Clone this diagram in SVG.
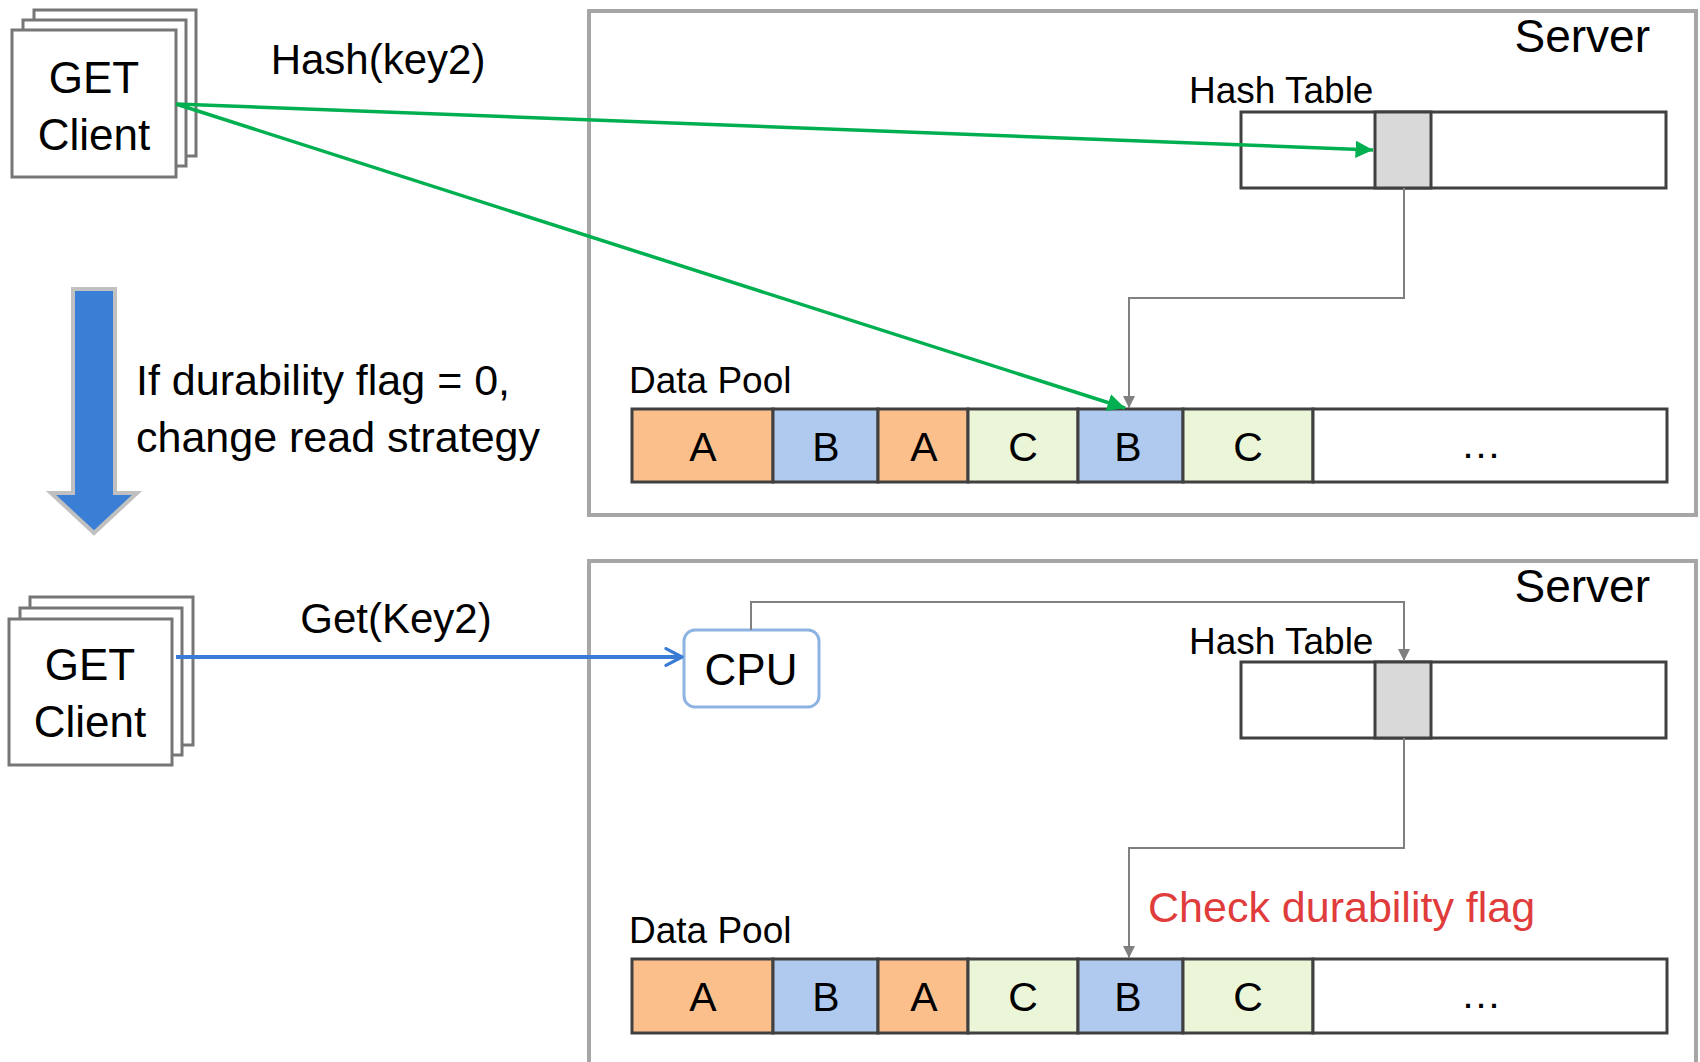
<svg xmlns="http://www.w3.org/2000/svg" width="1700" height="1062" viewBox="0 0 1700 1062">
  <style>
    text { font-family: "Liberation Sans", Arial, sans-serif; fill: #000; }
    .server { fill: #fff; stroke: #a6a6a6; stroke-width: 4; }
    .card { fill: #fff; stroke: #767676; stroke-width: 3; }
    .table { fill: #fff; stroke: #404040; stroke-width: 3; }
    .slot { fill: #d9d9d9; stroke: #404040; stroke-width: 3; }
    .cellA { fill: #fbbf8c; stroke: #404040; stroke-width: 3; }
    .cellB { fill: #afcaee; stroke: #404040; stroke-width: 3; }
    .cellC { fill: #ebf6d8; stroke: #404040; stroke-width: 3; }
    .cellE { fill: #fff; stroke: #404040; stroke-width: 3; }
    .green { fill: none; stroke: #00b050; stroke-width: 3.5; }
    .blue { fill: none; stroke: #3a7bd5; stroke-width: 4; }
    .gray { fill: none; stroke: #808080; stroke-width: 2; }
    .lbl { font-size: 44px; text-anchor: middle; }
    .cell { font-size: 41px; text-anchor: middle; }
    .small { font-size: 37px; }
  </style>
  <defs>
    <marker id="ahGreen" viewBox="0 0 10 10" refX="10" refY="5" markerWidth="5" markerHeight="5" orient="auto" markerUnits="strokeWidth">
      <path d="M0,0 L10,5 L0,10 z" fill="#00b050"/>
    </marker>
    <marker id="ahGray" viewBox="0 0 10 10" refX="10" refY="5" markerWidth="6" markerHeight="6" orient="auto" markerUnits="strokeWidth">
      <path d="M0,0 L10,5 L0,10 z" fill="#808080"/>
    </marker>
    <marker id="ahOpen" viewBox="0 0 10 10" refX="9" refY="5" markerWidth="5" markerHeight="5" orient="auto" markerUnits="strokeWidth">
      <path d="M1,0.8 L9,5 L1,9.2" fill="none" stroke="#3a7bd5" stroke-width="1.6" stroke-linecap="round" stroke-linejoin="round"/>
    </marker>
  </defs>

  <rect width="1700" height="1062" fill="#fff"/>

  <!-- upper server -->
  <g id="server-top">
    <rect class="server" x="589" y="11" width="1107" height="504"/>
    <text x="1650" y="52" font-size="46" text-anchor="end">Server</text>
  </g>

  <!-- lower server (continues past the bottom edge) -->
  <g id="server-bottom">
    <rect class="server" x="589" y="561" width="1107" height="520"/>
    <text x="1650" y="602" font-size="46" text-anchor="end">Server</text>
  </g>

  <!-- upper client stack -->
  <g id="client-top">
    <rect class="card" x="34" y="10" width="162" height="146"/>
    <rect class="card" x="23" y="20" width="163" height="146"/>
    <rect class="card" x="12" y="30" width="164" height="147"/>
    <text class="lbl" x="94" y="93">GET</text>
    <text class="lbl" x="94" y="150">Client</text>
  </g>

  <!-- lower client stack -->
  <g id="client-bottom">
    <rect class="card" x="30" y="597" width="163" height="148"/>
    <rect class="card" x="20" y="608" width="162" height="147"/>
    <rect class="card" x="9" y="619" width="163" height="146"/>
    <text class="lbl" x="90" y="680">GET</text>
    <text class="lbl" x="90" y="737">Client</text>
  </g>

  <!-- upper hash table -->
  <g id="hash-table-top">
    <text class="small" x="1189" y="103">Hash Table</text>
    <rect class="table" x="1241" y="112" width="425" height="76"/>
    <rect class="slot" x="1375" y="112" width="56" height="76"/>
  </g>

  <!-- lower hash table -->
  <g id="hash-table-bottom">
    <text class="small" x="1189" y="654">Hash Table</text>
    <rect class="table" x="1241" y="662" width="425" height="76"/>
    <rect class="slot" x="1375" y="662" width="56" height="76"/>
  </g>

  <!-- upper data pool -->
  <g id="data-pool-top">
    <text class="small" x="629" y="393">Data Pool</text>
    <rect class="cellA" x="632" y="409" width="141" height="73"/>
    <rect class="cellB" x="773" y="409" width="105" height="73"/>
    <rect class="cellA" x="878" y="409" width="90" height="73"/>
    <rect class="cellC" x="968" y="409" width="110" height="73"/>
    <rect class="cellB" x="1078" y="409" width="105" height="73"/>
    <rect class="cellC" x="1183" y="409" width="130" height="73"/>
    <rect class="cellE" x="1313" y="409" width="354" height="73"/>
    <text class="cell" x="703" y="461">A</text>
    <text class="cell" x="826" y="461">B</text>
    <text class="cell" x="924" y="461">A</text>
    <text class="cell" x="1023" y="461">C</text>
    <text class="cell" x="1128" y="461">B</text>
    <text class="cell" x="1248" y="461">C</text>
    <text class="cell" x="1481" y="458" font-size="30">…</text>
  </g>

  <!-- lower data pool -->
  <g id="data-pool-bottom">
    <text class="small" x="629" y="943">Data Pool</text>
    <rect class="cellA" x="632" y="959" width="141" height="74"/>
    <rect class="cellB" x="773" y="959" width="105" height="74"/>
    <rect class="cellA" x="878" y="959" width="90" height="74"/>
    <rect class="cellC" x="968" y="959" width="110" height="74"/>
    <rect class="cellB" x="1078" y="959" width="105" height="74"/>
    <rect class="cellC" x="1183" y="959" width="130" height="74"/>
    <rect class="cellE" x="1313" y="959" width="354" height="74"/>
    <text class="cell" x="703" y="1011">A</text>
    <text class="cell" x="826" y="1011">B</text>
    <text class="cell" x="924" y="1011">A</text>
    <text class="cell" x="1023" y="1011">C</text>
    <text class="cell" x="1128" y="1011">B</text>
    <text class="cell" x="1248" y="1011">C</text>
    <text class="cell" x="1481" y="1008" font-size="30">…</text>
  </g>

  <!-- CPU -->
  <g id="cpu">
    <rect x="684" y="630" width="135" height="77" rx="11" ry="11" fill="#fff" stroke="#8db3e2" stroke-width="3"/>
    <text class="lbl" x="751" y="685">CPU</text>
  </g>

  <!-- transition arrow between the two read paths -->
  <g id="strategy-change">
    <polygon points="73,289 115,289 115,493 137,493 94,533 51,493 73,493" fill="#3a7fd5" stroke="#c0c0c0" stroke-width="4" stroke-linejoin="miter"/>
    <text x="136" y="395" font-size="43">If durability flag = 0,</text>
    <text x="136" y="452" font-size="43">change read strategy</text>
  </g>

  <!-- connectors -->
  <g id="connectors">
    <line class="green" x1="176" y1="104" x2="1373" y2="150" marker-end="url(#ahGreen)"/>
    <line class="green" x1="176" y1="104" x2="1125" y2="408" marker-end="url(#ahGreen)"/>
    <text x="378" y="74" font-size="42" text-anchor="middle">Hash(key2)</text>

    <polyline class="gray" points="1404,188 1404,298 1129,298 1129,408" marker-end="url(#ahGray)"/>

    <line class="blue" x1="176" y1="657" x2="682" y2="657" marker-end="url(#ahOpen)"/>
    <text x="396" y="633" font-size="42" text-anchor="middle">Get(Key2)</text>

    <polyline class="gray" points="751,630 751,602 1404,602 1404,661" marker-end="url(#ahGray)"/>

    <polyline class="gray" points="1404,738 1404,848 1129,848 1129,958" marker-end="url(#ahGray)"/>
    <text x="1148" y="922" font-size="43" style="fill:#e03c3c">Check durability flag</text>
  </g>
</svg>
